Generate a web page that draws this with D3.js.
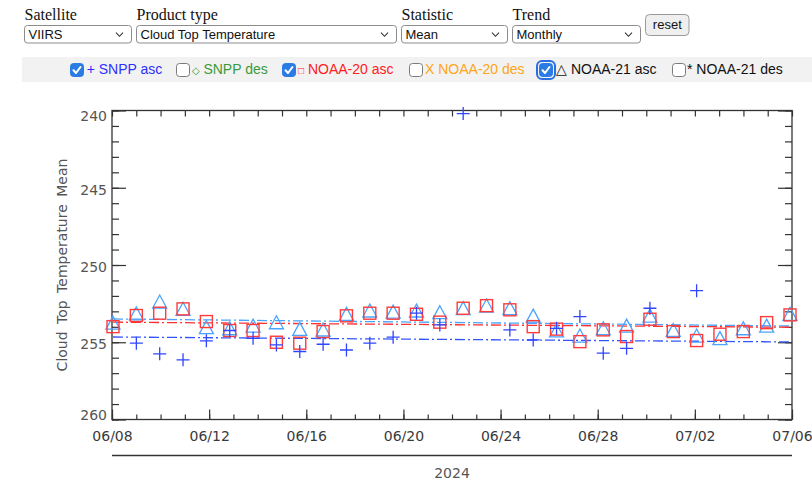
<!DOCTYPE html>
<html>
<head>
<meta charset="utf-8">
<script src="https://cdn.jsdelivr.net/npm/d3@7"></script>
<style>
  body { margin: 0; background: #fff; }
  svg { display: block; }
</style>
</head>
<body>
<svg id="chart" width="812" height="481"></svg>
<script>
// ---------- data ----------
const selectLabels = ["Satellite", "Product type", "Statistic", "Trend"];
const selectValues = ["VIIRS", "Cloud Top Temperature", "Mean", "Monthly"];

const legendSymbols = ["+", "\u25C7", "\u25A1", "X", "\u25B3", "*"];
const legendNames = ["SNPP asc", "SNPP des", "NOAA-20 asc", "NOAA-20 des", "NOAA-21 asc", "NOAA-21 des"];
const legendChecked = [true, false, true, false, true, false];

// daily values, 2024-06-08 .. 2024-07-07 (null = no observation)
const dayIndex = d3.range(30);
const snppAsc = [null, 255.06, 255.75, 256.14, 254.91, 254.24, 254.74, 255.17, 255.60, 255.13,
                 255.50, 255.06, 254.67, 253.12, 253.88, 240.20, null, 254.20, 254.85, 254.10,
                 253.34, 255.71, 255.39, 252.80, null, 251.66, null, null, null, null];
const noaa20Asc = [253.99, 253.27, 253.12, 252.84, 253.66, 254.24, 254.24, 255.00, 255.06, 254.31,
                   253.29, 253.12, 253.12, 253.19, 253.70, 252.80, 252.63, 252.90, 253.99, 254.15,
                   254.96, 254.20, 254.63, 253.51, 254.31, 254.89, 254.48, 254.31, 253.73, 253.23];
const noaa21Asc = [253.80, 253.20, 252.43, 252.90, 254.09, 254.16, 253.99, 253.77, 254.20, 254.24,
                   253.23, 253.01, 253.08, 253.01, 253.12, 252.86, 252.69, 252.86, 253.34, 254.30,
                   254.63, 254.16, 253.99, 253.34, 254.27, 254.63, 254.80, 254.16, 253.99, 253.23];

// trend line end values (start of period, end of period)
const snppTrend = [254.66, 254.98];
const noaa20Trend = [253.70, 254.03];
const noaa21Trend = [253.49, 253.95];

const yTicks = [240, 245, 250, 255, 260];
const xTickLabels = ["06/08", "06/12", "06/16", "06/20", "06/24", "06/28", "07/02", "07/06"];
const yearLabel = "2024";
const yTitle = "Cloud Top Temperature Mean";

// ---------- layout ----------
const svg = d3.select("#chart");
const sansUI = "'Liberation Sans', Arial, Helvetica, sans-serif";
const serifUI = "'Liberation Serif', 'Times New Roman', serif";
const plotFont = "'DejaVu Sans', sans-serif";
const plot = { left: 112, right: 792, top: 110.5, bottom: 419.5 };

// ---------- header selects ----------
const selectBoxes = [[24.5, 107], [136.5, 260], [401.5, 106], [512.5, 128]];
const header = svg.append("g");
selectLabels.forEach((lab, i) => {
  const [x, w] = selectBoxes[i];
  header.append("text").attr("x", x).attr("y", 19.5)
    .attr("font-family", serifUI).attr("font-size", 16).attr("fill", "#111").text(lab);
  header.append("rect").attr("x", x).attr("y", 25.5).attr("width", w).attr("height", 17.5)
    .attr("rx", 3).attr("fill", "#fff").attr("stroke", "#8c8c8c");
  header.append("text").attr("x", x + 4).attr("y", 38.6)
    .attr("font-family", sansUI).attr("font-size", 13).attr("fill", "#111").text(selectValues[i]);
  const cx = x + w - 12, cy = 34.5;
  header.append("path")
    .attr("d", `M${cx - 3.5},${cy - 1.8}L${cx},${cy + 1.8}L${cx + 3.5},${cy - 1.8}`)
    .attr("fill", "none").attr("stroke", "#333").attr("stroke-width", 1.1);
});
header.append("rect").attr("x", 645.5).attr("y", 14.5).attr("width", 43.5).attr("height", 21)
  .attr("rx", 4).attr("fill", "#efefef").attr("stroke", "#9a9a9a");
header.append("text").attr("x", 667.3).attr("y", 29.3).attr("text-anchor", "middle")
  .attr("font-family", sansUI).attr("font-size", 13).attr("fill", "#111").text("reset");

// ---------- series legend bar ----------
const legendColors = ["#2f2fff", "#3a9a3a", "#ff2020", "#ffa51a", "#111111", "#111111"];
const legendBoxX = [70.5, 176.5, 282.5, 409.5, 539.5, 672.5];
const legendTextX = [86.7, 191.5, 298, 425, 556, 687];
const symbolSize = [14, 10, 10, 14, 14, 14];
const legend = svg.append("g");
legend.append("rect").attr("x", 22).attr("y", 57).attr("width", 790).attr("height", 25).attr("fill", "#f2f2f2");
legendNames.forEach((name, i) => {
  const bx = legendBoxX[i], by = 63.5;
  if (i === 4) {
    legend.append("rect").attr("x", bx - 2.5).attr("y", by - 2.5).attr("width", 18).attr("height", 18)
      .attr("rx", 5).attr("fill", "none").attr("stroke", "#2a6fe0").attr("stroke-width", 2);
  }
  if (legendChecked[i]) {
    legend.append("rect").attr("x", bx).attr("y", by).attr("width", 13).attr("height", 13)
      .attr("rx", 3).attr("fill", "#2a7be4").attr("stroke", "#2a7be4");
    legend.append("path").attr("d", `M${bx + 3},${by + 6.8}L${bx + 5.5},${by + 9.5}L${bx + 10},${by + 3.5}`)
      .attr("fill", "none").attr("stroke", "#fff").attr("stroke-width", 2)
      .attr("stroke-linecap", "round").attr("stroke-linejoin", "round");
  } else {
    legend.append("rect").attr("x", bx).attr("y", by).attr("width", 13).attr("height", 13)
      .attr("rx", 3).attr("fill", "#fff").attr("stroke", "#7a7a7a");
  }
  const t = legend.append("text").attr("x", legendTextX[i]).attr("y", 74)
    .attr("font-family", sansUI).attr("font-size", 14).attr("fill", legendColors[i]);
  t.append("tspan").attr("font-size", symbolSize[i]).text(legendSymbols[i]);
  t.append("tspan").text(" " + name);
});

// ---------- scales ----------
const x = d3.scaleLinear().domain([0, 29]).range([113, 790]);
const xTick = d3.scaleLinear().domain([0, 28]).range([plot.left, plot.right]);
const y = d3.scaleLinear().domain([240, 260]).range([plot.top, plot.bottom]);

const g = svg.append("g");
const axisColor = "#333";

// frame
g.append("rect").attr("x", plot.left).attr("y", plot.top)
  .attr("width", plot.right - plot.left).attr("height", plot.bottom - plot.top)
  .attr("fill", "none").attr("stroke", axisColor).attr("stroke-width", 1.3);

function styleAxis(sel) {
  sel.select(".domain").remove();
  sel.selectAll(".tick line").attr("stroke", axisColor).attr("stroke-width", 1.2);
  sel.selectAll(".tick text").attr("font-family", plotFont).attr("font-size", 14).attr("fill", "#555");
}

// y axis: minor every 1, major every 5, ticks drawn inward
const yMinor = d3.range(240, 261);
g.append("g").attr("transform", `translate(${plot.left},0)`)
  .call(d3.axisLeft(y).tickValues(yMinor).tickSize(-7).tickFormat(""))
  .call(styleAxis);
g.append("g").attr("transform", `translate(${plot.left},0)`)
  .call(d3.axisLeft(y).tickValues(yTicks).tickSize(-14).tickPadding(5).tickFormat(d3.format("d")))
  .call(styleAxis)
  .call(s => s.selectAll(".tick text")
    .attr("y", d => d === 240 ? 6 : d === 260 ? -4 : 2));
g.append("g").attr("transform", `translate(${plot.right},0)`)
  .call(d3.axisRight(y).tickValues(yMinor).tickSize(-7).tickFormat(""))
  .call(styleAxis);
g.append("g").attr("transform", `translate(${plot.right},0)`)
  .call(d3.axisRight(y).tickValues(yTicks).tickSize(-14).tickFormat(""))
  .call(styleAxis);

// x axis: daily ticks, labelled every 4th
const xMinor = d3.range(29);
const xMajor = d3.range(0, 29, 4);
g.append("g").attr("transform", `translate(0,${plot.bottom})`)
  .call(d3.axisBottom(xTick).tickValues(xMinor).tickSize(-5).tickFormat(""))
  .call(styleAxis);
g.append("g").attr("transform", `translate(0,${plot.bottom})`)
  .call(d3.axisBottom(xTick).tickValues(xMajor).tickSize(-10).tickPadding(12)
    .tickFormat((d, i) => xTickLabels[i]))
  .call(styleAxis)
  .call(s => s.selectAll(".tick text").attr("fill", "#3a3a3a"));
g.append("g").attr("transform", `translate(0,${plot.top})`)
  .call(d3.axisTop(xTick).tickValues(xMinor).tickSize(-6).tickFormat(""))
  .call(styleAxis);

// year row under the axis
g.append("line").attr("x1", plot.left).attr("x2", plot.right).attr("y1", 455.5).attr("y2", 455.5)
  .attr("stroke", axisColor).attr("stroke-width", 1.5);
g.append("text").attr("x", (plot.left + plot.right) / 2).attr("y", 478)
  .attr("text-anchor", "middle").attr("font-family", plotFont).attr("font-size", 14)
  .attr("fill", "#555").text(yearLabel);

// y title
g.append("text").attr("transform", `translate(67,265) rotate(-90)`)
  .attr("text-anchor", "middle").attr("font-family", plotFont).attr("font-size", 14)
  .attr("fill", "#555").attr("word-spacing", 3).text(yTitle);

// ---------- trend lines ----------
const trendLine = d3.line().x(d => d[0]).y(d => y(d[1]));
function drawTrend(vals, color) {
  g.append("path")
    .attr("d", trendLine([[plot.left + 1, vals[0]], [plot.right - 1, vals[1]]]))
    .attr("fill", "none").attr("stroke", color).attr("stroke-width", 1.3)
    .attr("stroke-dasharray", "10,3,2,3");
}
drawTrend(snppTrend, "#3355ff");
drawTrend(noaa21Trend, "#4aa3ff");
drawTrend(noaa20Trend, "#ff3030");

// ---------- markers ----------
const pts = vals => dayIndex.map(i => [i, vals[i]]).filter(d => d[1] != null);
function plusPath(s) { return `M${-s},0H${s}M0,${-s}V${s}`; }

g.append("g").selectAll("path").data(pts(noaa21Asc)).join("path")
  .attr("transform", d => `translate(${x(d[0])},${y(d[1])})`)
  .attr("d", "M0,-7.5L7,5.5L-7,5.5Z")
  .attr("fill", "none").attr("stroke", "#4aa3ff").attr("stroke-width", 1.3);

g.append("g").selectAll("rect").data(pts(noaa20Asc)).join("rect")
  .attr("x", d => x(d[0]) - 6).attr("y", d => y(d[1]) - 6)
  .attr("width", 12).attr("height", 12)
  .attr("fill", "none").attr("stroke", "#ff3b3b").attr("stroke-width", 1.4);

g.append("g").selectAll("path").data(pts(snppAsc)).join("path")
  .attr("transform", d => `translate(${x(d[0])},${y(d[1])})`)
  .attr("d", plusPath(6.5))
  .attr("fill", "none").attr("stroke", "#2f45ff").attr("stroke-width", 1.3);
</script>
</body>
</html>
